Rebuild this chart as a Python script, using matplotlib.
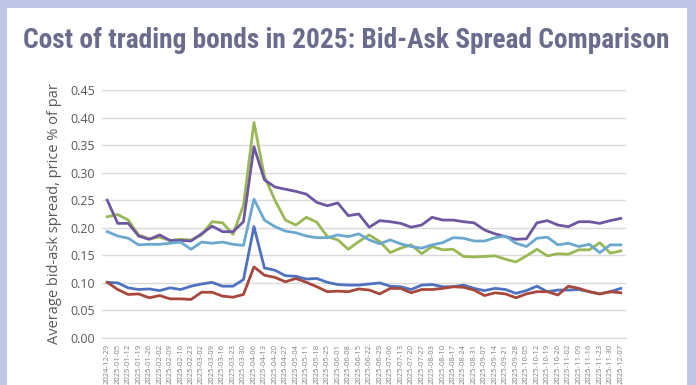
#! /usr/bin/env python

# imports of external packages to use in our code
import numpy as np
import pandas as pd
import matplotlib
matplotlib.use('Agg')
import matplotlib.pyplot as plt
from matplotlib import font_manager
from matplotlib.patches import Rectangle

# weekly categories
weeks = pd.date_range('2024-12-29', '2025-12-07', freq='7D').strftime('%Y-%m-%d').tolist()

# average bid-ask spread, % of par
blue = [0.101, 0.100, 0.091, 0.088, 0.089, 0.086, 0.091, 0.088, 0.094, 0.098, 0.101, 0.094, 0.094,
        0.106, 0.202, 0.127, 0.123, 0.113, 0.112, 0.107, 0.108, 0.101, 0.097, 0.096, 0.096,
        0.098, 0.100, 0.094, 0.093, 0.088, 0.096, 0.097, 0.093, 0.093, 0.096, 0.090, 0.086,
        0.090, 0.088, 0.081, 0.086, 0.094, 0.084, 0.087, 0.087, 0.088, 0.084, 0.080, 0.084, 0.090]
red = [0.101, 0.088, 0.079, 0.080, 0.073, 0.077, 0.071, 0.071, 0.070, 0.083, 0.083, 0.076, 0.074,
       0.079, 0.129, 0.114, 0.110, 0.102, 0.108, 0.101, 0.093, 0.084, 0.085, 0.084, 0.089,
       0.087, 0.080, 0.090, 0.090, 0.082, 0.088, 0.088, 0.090, 0.093, 0.092, 0.087, 0.077,
       0.082, 0.080, 0.073, 0.080, 0.084, 0.084, 0.078, 0.094, 0.090, 0.084, 0.080, 0.084, 0.082]
green = [0.220, 0.224, 0.214, 0.187, 0.180, 0.183, 0.177, 0.179, 0.178, 0.187, 0.211, 0.209, 0.188,
         0.241, 0.391, 0.293, 0.250, 0.214, 0.205, 0.219, 0.210, 0.184, 0.178, 0.161, 0.175,
         0.187, 0.175, 0.155, 0.163, 0.169, 0.153, 0.166, 0.160, 0.161, 0.148, 0.147, 0.148,
         0.149, 0.143, 0.138, 0.149, 0.161, 0.149, 0.153, 0.152, 0.160, 0.160, 0.173, 0.154, 0.158]
purple = [0.250, 0.208, 0.208, 0.185, 0.179, 0.187, 0.177, 0.177, 0.176, 0.189, 0.203, 0.193, 0.193,
          0.211, 0.347, 0.287, 0.274, 0.270, 0.266, 0.261, 0.246, 0.240, 0.245, 0.222, 0.225,
          0.201, 0.213, 0.211, 0.208, 0.201, 0.205, 0.219, 0.214, 0.214, 0.211, 0.209, 0.196,
          0.189, 0.184, 0.179, 0.180, 0.209, 0.213, 0.205, 0.202, 0.211, 0.211, 0.208, 0.213, 0.217]
aqua = [0.193, 0.185, 0.181, 0.169, 0.170, 0.170, 0.172, 0.174, 0.161, 0.174, 0.172, 0.174, 0.170,
        0.168, 0.252, 0.214, 0.202, 0.194, 0.191, 0.185, 0.182, 0.182, 0.187, 0.184, 0.189,
        0.178, 0.171, 0.178, 0.171, 0.166, 0.163, 0.169, 0.173, 0.182, 0.181, 0.176, 0.176,
        0.182, 0.185, 0.172, 0.166, 0.181, 0.183, 0.169, 0.172, 0.166, 0.170, 0.155, 0.169, 0.169]

series = [(blue, '#4E72C0'), (red, '#A8473C'), (green, '#98B955'),
          (purple, '#6E57A0'), (aqua, '#6AA8D0')]

title = 'Cost of trading bonds in 2025: Bid-Ask Spread Comparison'


def is_bold(f):
    w = f.weight
    if isinstance(w, str):
        return w in ('bold', 'heavy', 'extra bold', 'black', 'semibold', 'demibold')
    return w >= 600


def title_font():
    # look for a narrow / condensed bold face among the installed fonts
    picks = []
    for f in font_manager.fontManager.ttflist:
        tag = (f.name + ' ' + f.fname).lower()
        narrow = ('condensed' in tag or 'narrow' in tag or
                  f.stretch in ('condensed', 'semi-condensed', 'extra-condensed'))
        if narrow and is_bold(f) and 'italic' not in tag and 'oblique' not in tag:
            picks.append(f)
    order = ['roboto', 'open sans', 'noto sans', 'liberation', 'dejavu']
    def rank(f):
        n = f.name.lower()
        for i, o in enumerate(order):
            if n.startswith(o):
                return i
        return len(order)
    picks.sort(key=rank)
    if picks:
        return font_manager.FontProperties(fname=picks[0].fname)
    return font_manager.FontProperties(family='DejaVu Sans', weight='bold')


if __name__ == "__main__":
    fig = plt.figure(figsize=(6.96, 3.85), dpi=100, facecolor='#BEC5E5')
    # white panel inside the lavender frame
    fig.patches.append(Rectangle((7 / 696, 0), 680 / 696, 1 - 8 / 385,
                                 transform=fig.transFigure, facecolor='white',
                                 edgecolor='none', zorder=-5))

    fp = title_font()
    fp.set_size(22)
    t = fig.text(0.497, 1 - 41 / 385, title, ha='center', va='center',
                 fontproperties=fp, color='#6A6C8E')
    # fit the title to the width it has in the original (~648 px)
    fig.canvas.draw()
    w = t.get_window_extent().width
    t.set_fontsize(min(26, 22 * 648 / w))

    ax = fig.add_axes([102 / 696, 1 - 338 / 385, 524 / 696, 248 / 385])
    ax.set_facecolor('none')

    x = np.arange(len(weeks))
    for vals, col in series:
        ax.plot(x, vals, color=col, linewidth=2.0)

    ax.set_xlim(-0.5, len(weeks) - 0.5)
    ax.set_ylim(0, 0.45)
    ax.set_yticks(np.arange(0, 0.451, 0.05))
    ax.set_yticklabels(['%.2f' % v for v in np.arange(0, 0.451, 0.05)],
                       family='Open Sans', fontsize=9, color='#595959')
    ax.set_xticks(x)
    ax.set_xticklabels(weeks, rotation=90, fontsize=5.5, color='#7F7F7F', family='Open Sans')
    ax.tick_params(axis='both', length=0)
    ax.tick_params(axis='y', pad=5)
    ax.tick_params(axis='x', pad=4)

    ax.grid(True, axis='y', color='#D9D9D9', linewidth=1.0)
    ax.set_axisbelow(True)
    for s in ['top', 'right', 'left']:
        ax.spines[s].set_visible(False)
    ax.spines['bottom'].set_color('#D9D9D9')

    ax.set_ylabel('Average bid-ask spread, price % of par', family='Open Sans',
                  fontsize=10.5, color='#595959', labelpad=6)

    plt.savefig('out.png', dpi=100, facecolor=fig.get_facecolor())
